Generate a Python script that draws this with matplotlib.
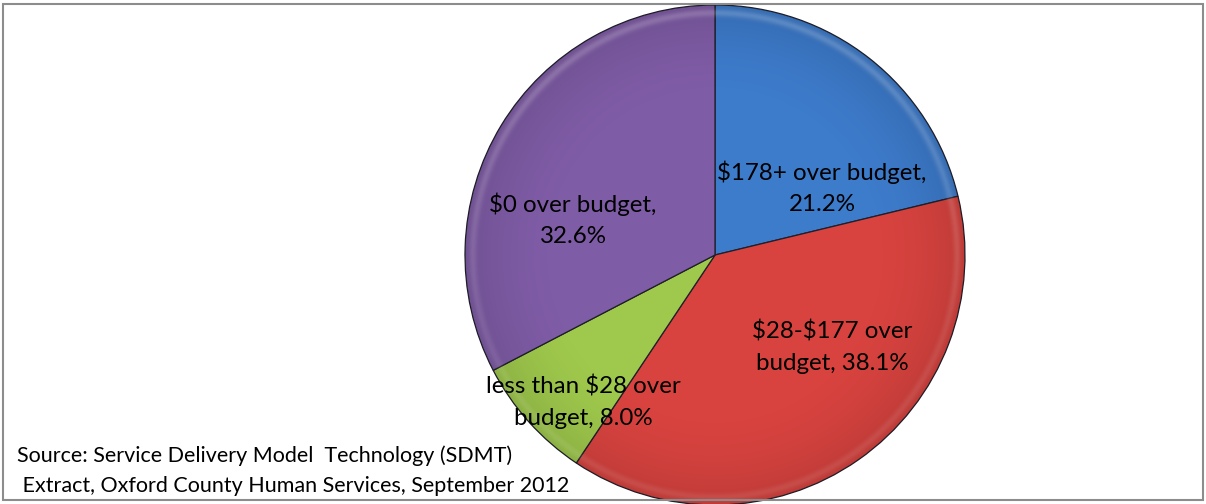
import numpy as np
import matplotlib.pyplot as plt
from matplotlib.patches import Circle, Rectangle

plt.rcParams['font.family'] = ['Lato', 'DejaVu Sans']
plt.rcParams['text.parse_math'] = False

# Share of clients by amount over budget
labels = ["$178+ over budget", "$28-$177 over budget",
          "less than $28 over budget", "$0 over budget"]
shares = [21.2, 38.1, 8.0, 32.6]
colors = ["#3d7bcb", "#d8433f", "#9fc94c", "#7f5ca6"]
label_text = ["$178+ over budget,\n21.2%", "$28-$177 over\nbudget, 38.1%",
              "less than $28 over\nbudget, 8.0%", "$0 over budget,\n32.6%"]
label_pos = [(822, 316), (832, 157), (583, 102), (573, 284)]
source = ("Source: Service Delivery Model  Technology (SDMT)\n"
          " Extract, Oxford County Human Services, September 2012")

W, H = 1206, 504
fig = plt.figure(figsize=(W / 100, H / 100), dpi=100)
ax = fig.add_axes([0, 0, 1, 1])

cx, cy, r = 715, 249, 250

wedges, _ = ax.pie(shares, colors=colors, startangle=90, counterclock=False,
                   center=(cx, cy), radius=r, frame=True,
                   wedgeprops=dict(edgecolor="#1f1f2a", linewidth=0.9))
ax.set_xlim(0, W)
ax.set_ylim(0, H)
ax.set_aspect('equal')
ax.axis('off')

# bevel-style shading: slightly darker towards the rim, faint light band inside it
n = 600
yy, xx = np.mgrid[-1:1:n * 1j, -1:1:n * 1j]
rr = np.sqrt(xx ** 2 + yy ** 2)
shade = np.zeros((n, n, 4))
shade[..., 3] = np.clip((rr - 0.6) / 0.4, 0, 1) ** 2 * 0.12
light = np.zeros((n, n, 4))
light[..., :3] = 1.0
light[..., 3] = np.exp(-((rr - 0.97) / 0.015) ** 2) * 0.18 * (0.5 + 0.5 * np.clip(yy + 0.3, 0, 1))
clip = Circle((cx, cy), r, transform=ax.transData)
for img in (shade, light):
    im = ax.imshow(img, extent=(cx - r, cx + r, cy - r, cy + r),
                   origin='lower', zorder=2, interpolation='bilinear')
    im.set_clip_path(clip)
ax.set_xlim(0, W)
ax.set_ylim(0, H)

for txt, (x, y) in zip(label_text, label_pos):
    ax.text(x, y, txt, ha='center', va='center', fontsize=17.4,
            linespacing=1.6, color='black', zorder=5)

ax.text(17, 33, source, ha='left', va='center', fontsize=15.5,
        linespacing=1.65, color='black', zorder=5)

ax.add_patch(Rectangle((3, 4), W - 6, H - 8, fill=False,
                       edgecolor='#8c8c8c', linewidth=1.5, zorder=6))

fig.savefig("out.png", dpi=100)
